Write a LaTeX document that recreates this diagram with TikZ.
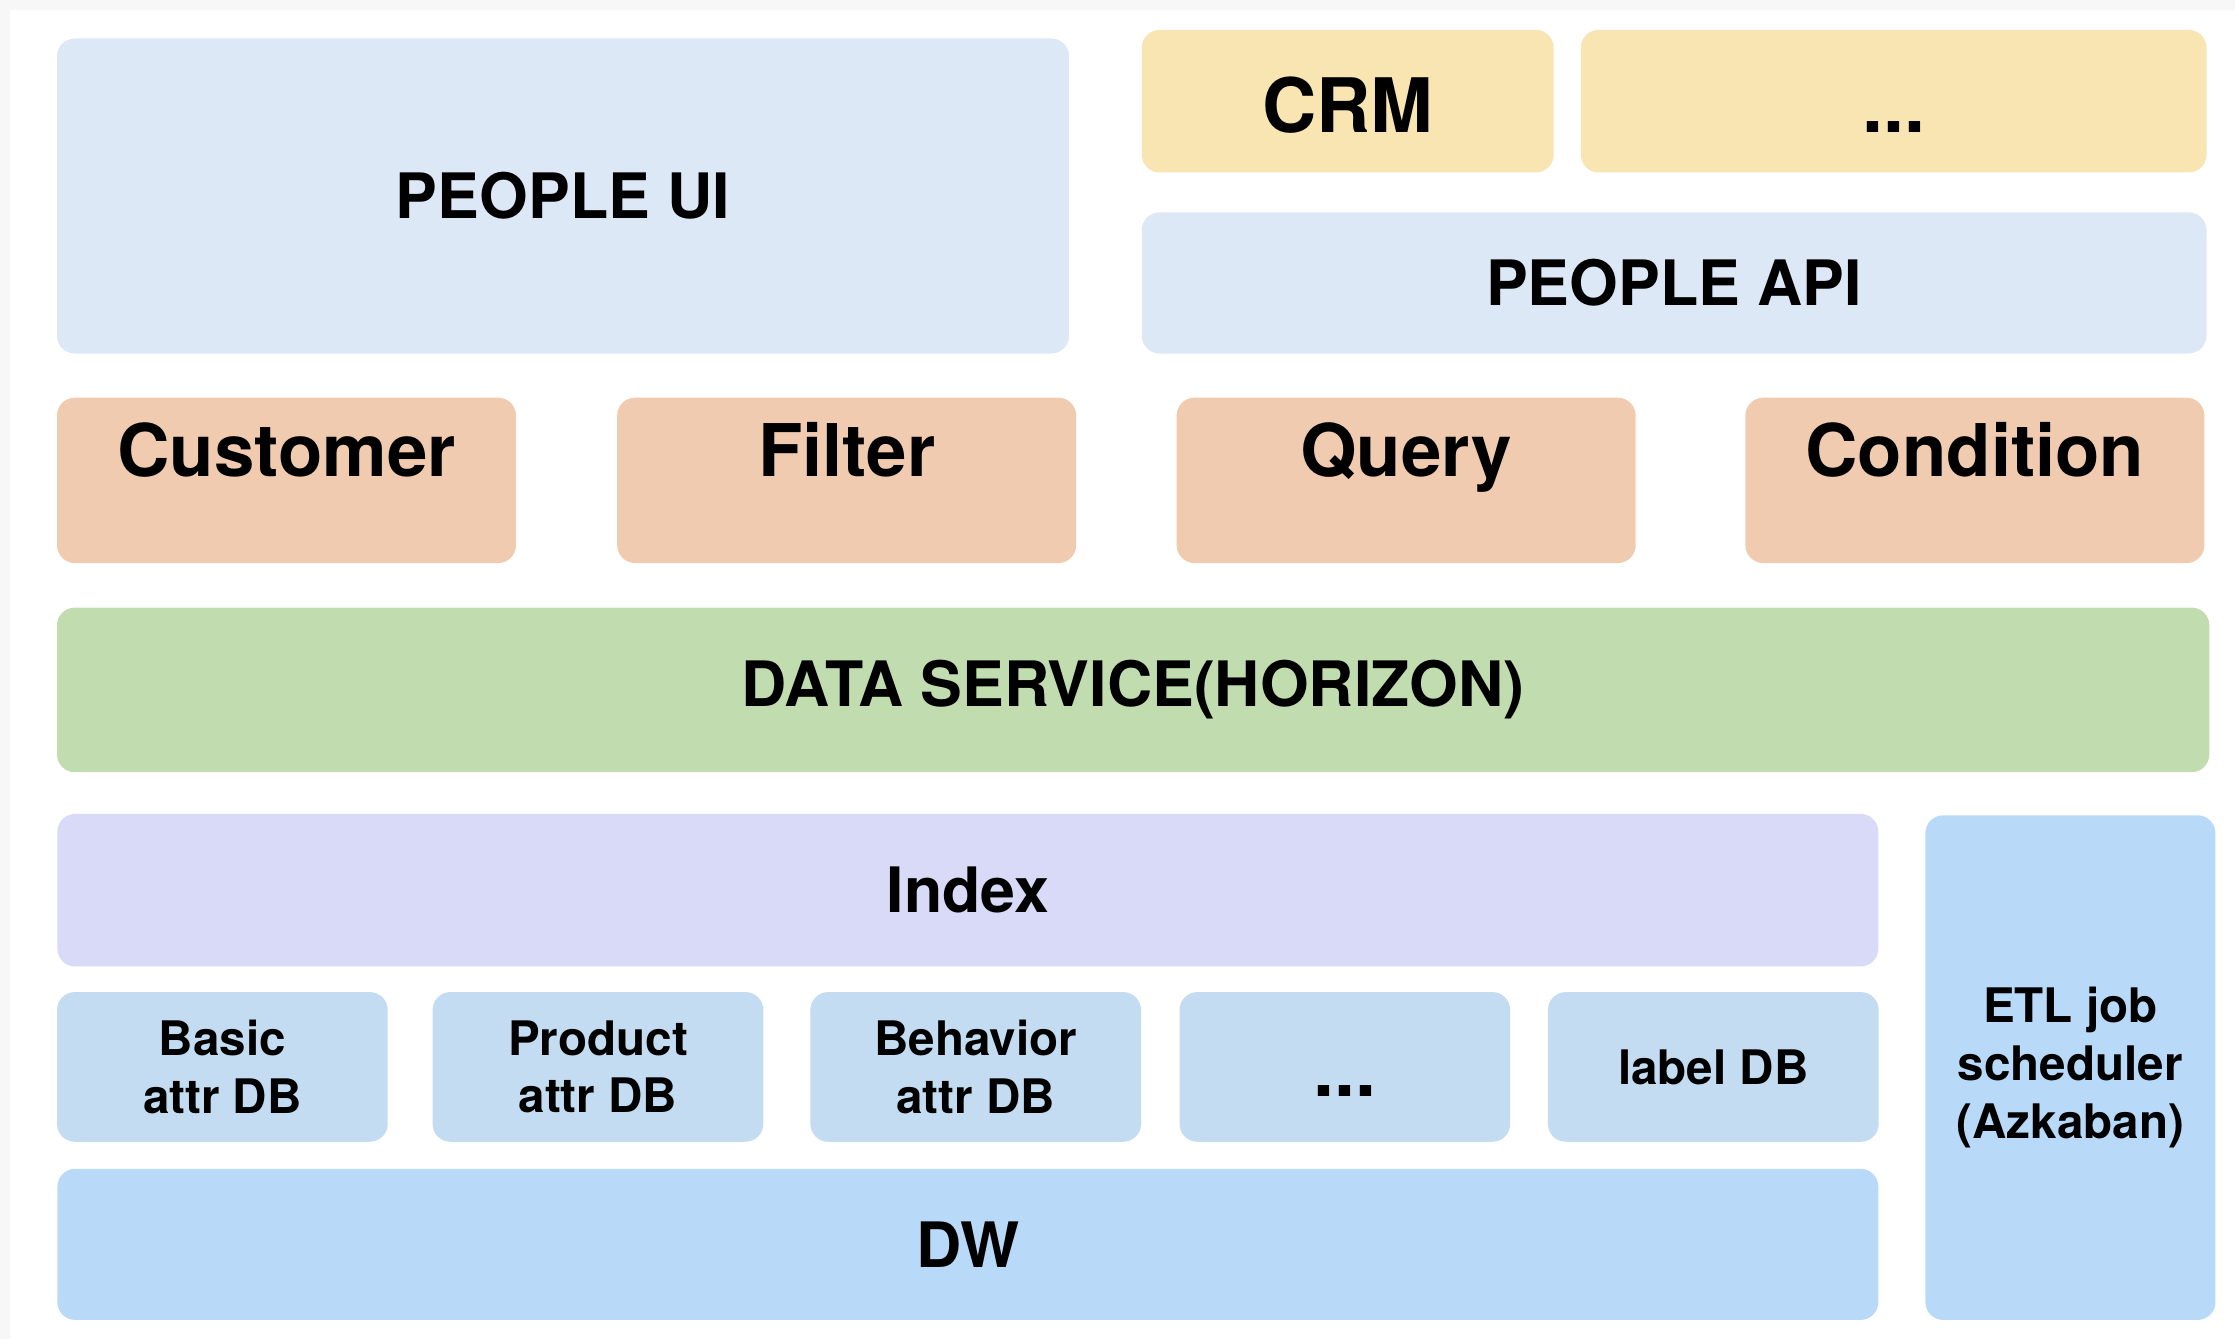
\documentclass[tikz,border=0pt]{standalone}
\usepackage{fontspec}
\setmainfont{TeX Gyre Heros}
\definecolor{uiblue}{HTML}{DCE8F6}
\definecolor{appyellow}{HTML}{F9E5B2}
\definecolor{funcorange}{HTML}{F1CBB0}
\definecolor{servicegreen}{HTML}{C1DDB0}
\definecolor{indexpurple}{HTML}{D9D9F8}
\definecolor{dbblue}{HTML}{C3DCF1}
\definecolor{dwblue}{HTML}{B9D9F9}
\tikzstyle{tier}=[rounded corners=0.25cm, inner sep=0pt, align=center,
    font=\bfseries\fontsize{25}{30}\selectfont]
\tikzstyle{app}=[tier, fill=appyellow, text height=0.88cm, text depth=0pt,
    font=\bfseries\fontsize{30}{36}\selectfont]
\tikzstyle{func}=[tier, fill=funcorange, text height=0.73cm, text depth=0.84cm,
    font=\bfseries\fontsize{29}{34}\selectfont]
\tikzstyle{store}=[tier, fill=dbblue,
    font=\bfseries\fontsize{19}{23}\selectfont]
\newcommand{\tier}{\node[tier]}

\begin{document}
\begin{tikzpicture}[
    ,wh/.style 2 args={minimum width=#1cm, minimum height=#2cm}
]
\useasboundingbox (0,0) rectangle (31.36,-18.79);
\fill[black!3] (0,0) rectangle (31.36,-18.79);
\fill[white] (0.14,-0.14) rectangle (31.36,-18.79);
% top
\tier (ui) at (7.90,-2.75) [fill=uiblue, wh={14.20}{4.42}] {PEOPLE UI};
\node[app, wh={5.78}{2.00}] (crm) at (18.91,-1.42) {CRM};
\node[app, wh={8.78}{2.00}] (apps) at (26.57,-1.42) {...};
\tier (api) at (23.49,-3.97) [fill=uiblue, wh={14.94}{1.98}] {PEOPLE API};
% functions
\node[func, wh={6.44}{2.32}] (customer) at (4.02,-6.74) {Customer};
\node[func, wh={6.44}{2.32}] (filter) at (11.88,-6.74) {Filter};
\node[func, wh={6.44}{2.32}] (query) at (19.73,-6.74) {Query};
\node[func, wh={6.44}{2.32}] (condition) at (27.71,-6.74) {Condition};
% service
\tier (service) at (15.90,-9.68) [fill=servicegreen, wh={30.20}{2.31}] {DATA SERVICE(HORIZON)};
% storage
\tier (index) at (13.58,-12.49) [fill=indexpurple, wh={25.55}{2.14}] {Index};
\node[store, wh={4.64}{2.10}] (basic) at (3.12,-14.97) {Basic\\attr DB};
\node[store, wh={4.64}{2.10}] (product) at (8.39,-14.97) {Product\\attr DB};
\node[store, wh={4.64}{2.10}] (behavior) at (13.69,-14.97) {Behavior\\attr DB};
\node[store, wh={4.64}{2.10}, text height=0.84cm, text depth=0pt,
    font=\bfseries\fontsize{30}{36}\selectfont] (dbmore) at (18.87,-14.97) {...};
\node[store, wh={4.64}{2.10}] (label) at (24.04,-14.97) {label DB};
\tier (dw) at (13.58,-17.46) [fill=dwblue, wh={25.55}{2.12}] {DW};
\node[store, fill=dwblue, wh={4.07}{7.08}] (etl) at (29.05,-14.98)
    {ETL job\\scheduler\\(Azkaban)};
\end{tikzpicture}
\end{document}
